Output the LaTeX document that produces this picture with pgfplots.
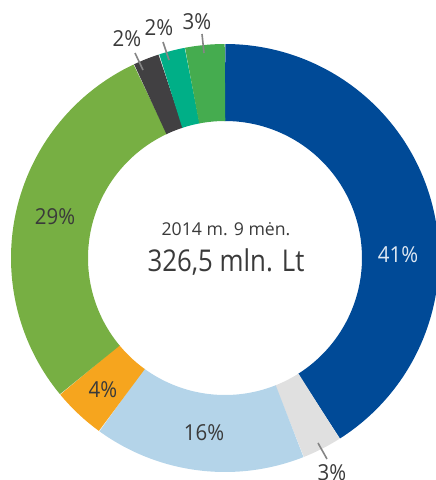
\documentclass[border=0pt]{standalone}
\usepackage{pgfplots}
\pgfplotsset{compat=1.18}
\usepackage{fontspec}
\setmainfont{Open Sans}
\newfontfamily\bigf[FakeStretch=0.86]{Open Sans}
\newfontfamily\labf[FakeStretch=0.93]{Open Sans}
\definecolor{cBlue}{HTML}{004A97}
\definecolor{cLGray}{HTML}{E0E0E0}
\definecolor{cLBlue}{HTML}{B4D4E9}
\definecolor{cOrange}{HTML}{F6A51E}
\definecolor{cGreen}{HTML}{77AF43}
\definecolor{cDGray}{HTML}{414042}
\definecolor{cTeal}{HTML}{00AF87}
\definecolor{cGreenB}{HTML}{45AC4F}
\definecolor{cText}{HTML}{3A3A3A}
\definecolor{cLead}{HTML}{858585}
% shares (%): 41, 3, 16, 4, 29, 2, 2, 3  -> cumulative bounds used as domains
\begin{document}
\begin{tikzpicture}
\useasboundingbox (0,0) rectangle (327pt,360pt);
\begin{axis}[at={(0,0)}, anchor=south west, x=0.75pt, y=0.75pt,
  xmin=0, xmax=436, ymin=0, ymax=480, hide axis, clip=true,
  clip bounding box=upper bound]
\addplot[cBlue,   line width=57.75pt, line cap=butt, domain=0:41,  samples=120] ({225+175.5*sin(3.6*x)},{222+175.5*cos(3.6*x)});
\addplot[cLGray,  line width=57.75pt, line cap=butt, domain=41:44, samples=20]  ({225+175.5*sin(3.6*x)},{222+175.5*cos(3.6*x)});
\addplot[cLBlue,  line width=57.75pt, line cap=butt, domain=44:60, samples=60]  ({225+175.5*sin(3.6*x)},{222+175.5*cos(3.6*x)});
\addplot[cOrange, line width=57.75pt, line cap=butt, domain=60:64, samples=20]  ({225+175.5*sin(3.6*x)},{222+175.5*cos(3.6*x)});
\addplot[cGreen,  line width=57.75pt, line cap=butt, domain=64:93, samples=100] ({225+175.5*sin(3.6*x)},{222+175.5*cos(3.6*x)});
\addplot[cDGray,  line width=57.75pt, line cap=butt, domain=93:95, samples=12]  ({225+175.5*sin(3.6*x)},{222+175.5*cos(3.6*x)});
\addplot[cTeal,   line width=57.75pt, line cap=butt, domain=95:97, samples=12]  ({225+175.5*sin(3.6*x)},{222+175.5*cos(3.6*x)});
\addplot[cGreenB, line width=57.75pt, line cap=butt, domain=97:100, samples=20] ({225+175.5*sin(3.6*x)},{222+175.5*cos(3.6*x)});
% leader lines
\addplot[cLead, line width=1.2pt] coordinates {(202,446) (204,427)};
\addplot[cLead, line width=1.2pt] coordinates {(163,438) (169,420)};
\addplot[cLead, line width=1.2pt] coordinates {(135,427) (143,410)};
\addplot[cLead, line width=1.2pt] coordinates {(318,37) (327,21)};
% labels
\tikzset{lab/.style={font=\labf\fontsize{16.5}{19}\selectfont, text=cText, inner sep=0pt, anchor=center}}
\node[lab, text=white!88!cBlue] at (axis cs:398,225) {41\%};
\node[lab] at (axis cs:204,47) {16\%};
\node[lab] at (axis cs:103,90) {4\%};
\node[lab] at (axis cs:55,263) {29\%};
\node[lab] at (axis cs:197,458) {3\%};
\node[lab] at (axis cs:159,452) {2\%};
\node[lab] at (axis cs:127,441) {2\%};
\node[lab] at (axis cs:332,7) {3\%};
\node[font=\fontsize{13.25}{15}\selectfont, text=cText, inner sep=0pt] at (axis cs:226,251) {2014 m. 9 mėn.};
\node[font=\bigf\fontsize{22.5}{26}\selectfont, text=cText, inner sep=0pt] at (axis cs:226,218) {326,5 mln. Lt};
\end{axis}
\end{tikzpicture}
\end{document}
